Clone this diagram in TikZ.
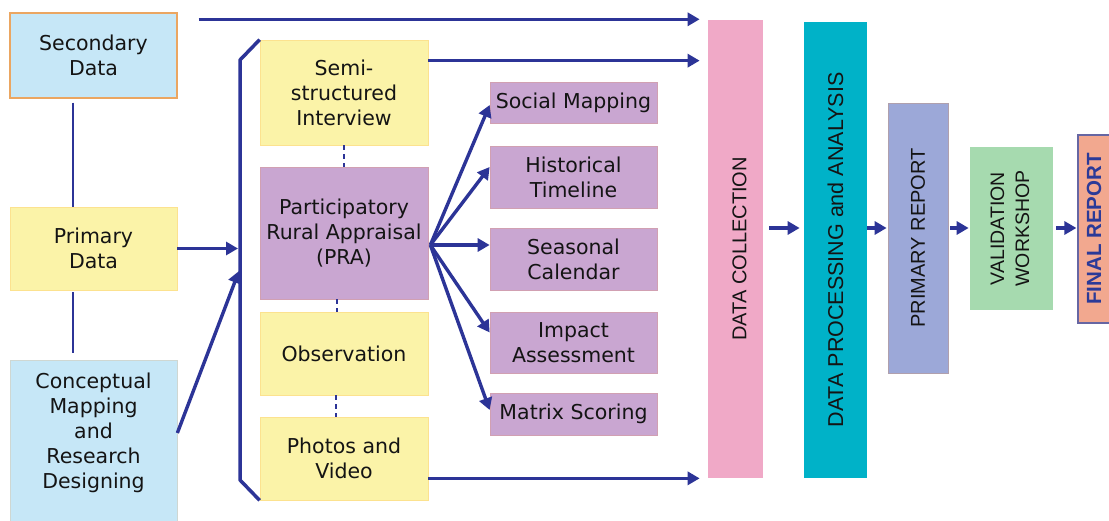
\documentclass[tikz,border=0pt]{standalone}
\usepackage{fontspec}
\usepackage{graphicx}
\setmainfont{DejaVu Sans}
\newfontfamily\arialf{Liberation Sans}
\usetikzlibrary{arrows.meta,calc}
\definecolor{lblue}{HTML}{C6E7F7}
\definecolor{lyel}{HTML}{FBF3A8}
\definecolor{lpur}{HTML}{C9A6D1}
\definecolor{lpink}{HTML}{F0A9C7}
\definecolor{teal1}{HTML}{00B2C8}
\definecolor{peri}{HTML}{9CA8D8}
\definecolor{lgreen}{HTML}{A6DAAF}
\definecolor{salmon}{HTML}{F2A88F}
\definecolor{navy}{HTML}{2C3497}
\definecolor{txt}{HTML}{141414}
\definecolor{finblue}{HTML}{2B3A98}
\tikzset{
  box/.style={rectangle, inner sep=0pt, align=center, text=txt,
    font=\fontsize{20.5}{25}\selectfont, line width=0.7pt},
  bluebox/.style={box, fill=lblue, draw=lblue!85!orange},
  yelbox/.style={box, fill=lyel, draw=lyel!85!orange},
  purbox/.style={box, fill=lpur, draw=lpur!85!orange},
  vbox/.style={rectangle, inner sep=0pt, align=center, text=txt, line width=0.7pt},
  conn/.style={draw=navy, line width=3.5pt},
  thin/.style={draw=navy, line width=2.8pt},
  dconn/.style={draw=navy, line width=2.6pt, dash pattern=on 5pt off 4pt},
  arr/.style={draw=navy, line width=3.4pt, -{Triangle[length=12pt,width=13pt]}},
}
\begin{document}
\begin{tikzpicture}[x=1pt,y=-1pt]
\useasboundingbox (0,0) rectangle (1109,521);
\fill[white] (0,0) rectangle (1109,521);

% left column
\node[bluebox, draw=orange!55!brown!70, line width=1.4pt, minimum width=167pt, minimum height=85pt] (sec) at (93.5,55.5) {Secondary\\Data};
\node[yelbox, minimum width=167pt, minimum height=83pt] (pri) at (93.5,248.5) {Primary\\Data};
\node[bluebox, minimum width=167pt, minimum height=163pt] (cmr) at (93.5,441.5) {};
\node[box] (cmt) at (93.5,433) {Conceptual\\Mapping\\and\\Research\\Designing};

% methods column
\node[yelbox, minimum width=168pt, minimum height=105pt] (semi) at (344,92.5) {Semi-\\structured\\Interview};
\node[purbox, minimum width=168pt, minimum height=132pt] (pra) at (344,233) {Participatory\\Rural Appraisal\\(PRA)};
\node[yelbox, minimum width=168pt, minimum height=83pt] (obs) at (344,353.5) {Observation};
\node[yelbox, minimum width=168pt, minimum height=83pt] (pho) at (344,458.5) {Photos and\\Video};

% PRA tools
\node[purbox, minimum width=167pt, minimum height=41pt] (sm) at (573.5,103) {Social Mapping};
\node[purbox, minimum width=167pt, minimum height=62pt] (ht) at (573.5,177) {Historical\\Timeline};
\node[purbox, minimum width=167pt, minimum height=62pt] (sc) at (573.5,259) {Seasonal\\Calendar};
\node[purbox, minimum width=167pt, minimum height=61pt] (ia) at (573.5,342.5) {Impact\\Assessment};
\node[purbox, minimum width=167pt, minimum height=42pt] (ms) at (573.5,414) {Matrix Scoring};

% right column
\node[vbox, fill=lpink, minimum width=55pt, minimum height=458pt] (dc) at (735.5,249)
  {\hspace*{8pt}\rotatebox{90}{\arialf\fontsize{20}{24}\selectfont DATA COLLECTION}};
\node[vbox, fill=teal1, minimum width=63pt, minimum height=456pt] (dpa) at (835.5,250)
  {\rotatebox{90}{\arialf\fontsize{21.5}{24}\selectfont DATA PROCESSING and ANALYSIS}};
\node[vbox, fill=peri, draw=peri!80!orange, minimum width=60pt, minimum height=270pt] (prr) at (918,238)
  {\rotatebox{90}{\arialf\fontsize{20}{24}\selectfont PRIMARY REPORT}};
\node[vbox, fill=lgreen, minimum width=83pt, minimum height=163pt] (vw) at (1011.5,228.5)
  {\rotatebox{90}{\arialf\fontsize{19.5}{25}\selectfont\begin{tabular}{@{}c@{}}VALIDATION\\WORKSHOP\end{tabular}}};
\node[vbox, fill=salmon, draw=black!60!blue!60, line width=1.2pt, minimum width=32pt, minimum height=188pt] (fr) at (1094,229)
  {\rotatebox{90}{\arialf\bfseries\fontsize{20.5}{24}\selectfont\color{finblue}FINAL REPORT}};

% helper coordinates
\coordinate (vx) at (73,0);
\coordinate (bt) at (240,60);
\coordinate (bb) at (240,480);
\coordinate (bj) at (239,271);
\coordinate (rm) at (0,228);
\coordinate (a1) at ($(sec.north east)+(21,7)$);
\coordinate (a2) at ($(semi.north east)+(0,21)$);
\coordinate (a3) at ($(pho.south east)+(0,-22)$);
\coordinate (d1) at ($(sec.south -| vx)+(0,4)$);
\coordinate (d2) at ($(pri.south -| vx)+(0,2)$);
\coordinate (d3) at ($(cmr.north -| vx)+(0,-7)$);
\coordinate (x1) at (344,0);
\coordinate (x2) at (337,0);
\coordinate (x3) at (336,0);

% vertical links on the left
\draw[thin] (d1) -- (pri.north -| vx);
\draw[thin] (d2) -- (d3);

% arrows into bracket
\draw[arr, shorten >=2pt] (pri.east) -- (pri.east -| bt);
\draw[arr] (cmr.east |- cmt.center) -- (bj);

% bracket
\draw[conn, line join=round] (semi.north west) -- (bt) -- (bb) -- (pho.south west);

% dashed links between methods
\draw[dconn] (semi.south -| x1) -- (pra.north -| x1);
\draw[dconn] (pra.south -| x2) -- (obs.north -| x2);
\draw[dconn] (obs.south -| x3) -- (pho.north -| x3);

% arrows to data collection
\draw[arr, shorten >=8pt] (a1) -- (a1 -| dc.west);
\draw[arr, shorten >=8pt] (a2) -- (a2 -| dc.west);
\draw[arr, shorten >=8pt] (a3) -- (a3 -| dc.west);

% PRA fan
\coordinate (po) at ($(pra.east)+(2,12)$);
\draw[arr] (po) -- ($(sm.west)+(0,2)$);
\draw[arr] (po) -- ($(ht.west)+(0,-10)$);
\draw[arr] (po) -- ($(sc.west)+(0,-14)$);
\draw[arr] (po) -- ($(ia.west)+(0,-10)$);
\draw[arr] (po) -- ($(ms.west)+(0,-4)$);

% flow on the right
\draw[arr, shorten <=6pt, shorten >=4pt] (dc.east |- rm) -- (dpa.west |- rm);
\draw[arr, shorten >=1pt] (dpa.east |- rm) -- (prr.west |- rm);
\draw[arr, shorten <=2pt, shorten >=1pt] (prr.east |- rm) -- (vw.west |- rm);
\draw[arr, shorten <=3pt, shorten >=1pt] (vw.east |- rm) -- (fr.west |- rm);
\end{tikzpicture}
\end{document}
